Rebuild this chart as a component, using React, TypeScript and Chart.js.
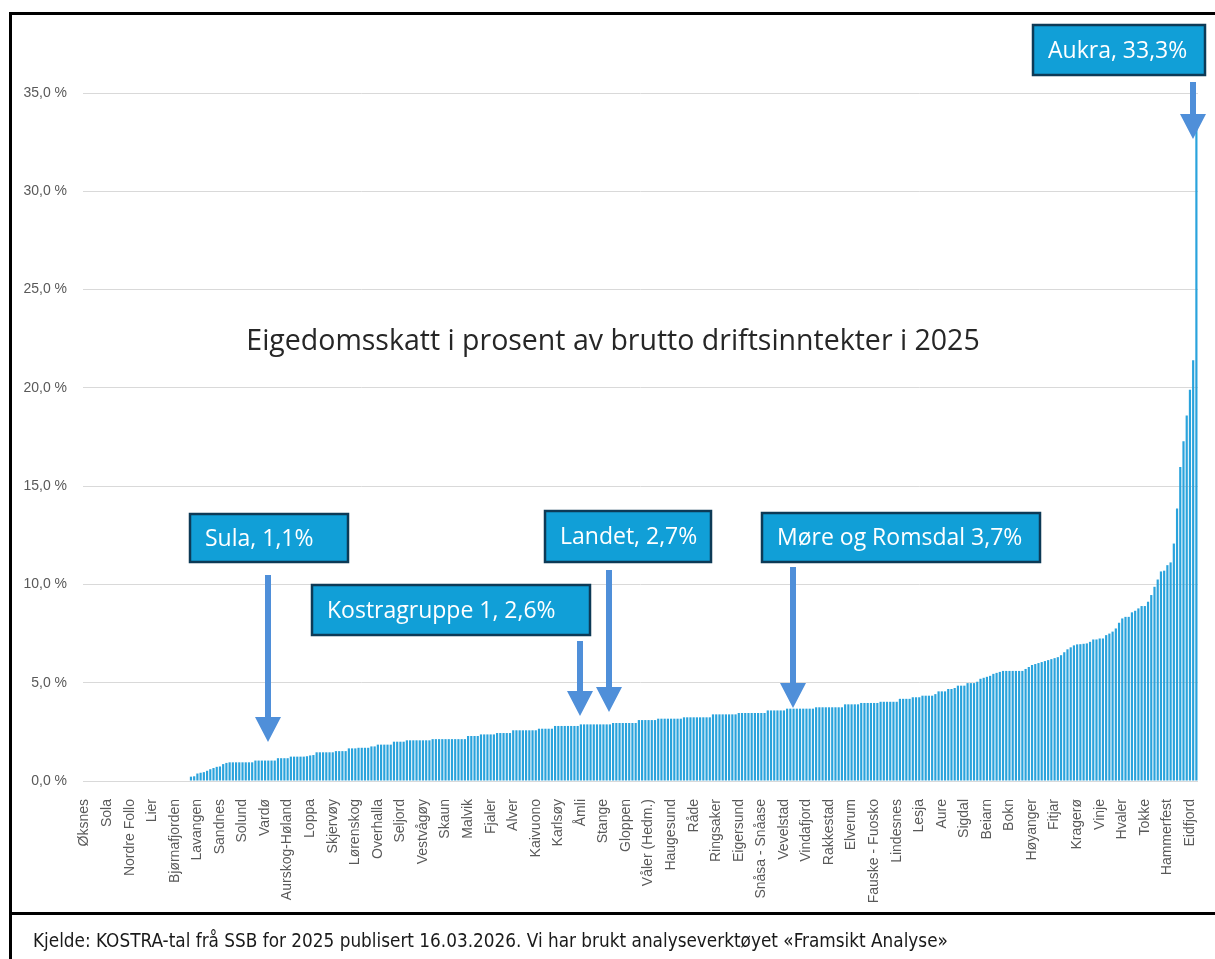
import React, { useEffect, useRef } from 'react';
import { Chart, registerables } from 'chart.js';

Chart.register(...registerables);

// Every 7th municipality is labelled on the x axis
const LABEL_EVERY = 7;
const shownLabels = [
  'Øksnes', 'Sola', 'Nordre Follo', 'Lier', 'Bjørnafjorden', 'Lavangen', 'Sandnes', 'Solund', 'Vardø', 'Aurskog-Høland',
  'Loppa', 'Skjervøy', 'Lørenskog', 'Overhalla', 'Seljord', 'Vestvågøy', 'Skaun', 'Malvik', 'Fjaler', 'Alver',
  'Kaivuono', 'Karlsøy', 'Åmli', 'Stange', 'Gloppen', 'Våler (Hedm.)', 'Haugesund', 'Råde', 'Ringsaker', 'Eigersund',
  'Snåsa - Snåase', 'Vevelstad', 'Vindafjord', 'Rakkestad', 'Elverum', 'Fauske - Fuosko', 'Lindesnes', 'Lesja', 'Aure', 'Sigdal',
  'Beiarn', 'Bokn', 'Høyanger', 'Fitjar', 'Kragerø', 'Vinje', 'Hvaler', 'Tokke', 'Hammerfest', 'Eidfjord',
];

// Eigedomsskatt i prosent av brutto driftsinntekter (sorted)
const values = [
  0, 0, 0, 0, 0, 0, 0, 0, 0, 0, 0,
  0, 0, 0, 0, 0, 0, 0, 0, 0, 0, 0,
  0, 0, 0, 0, 0, 0, 0, 0, 0, 0, 0,
  0.22, 0.24, 0.38, 0.42, 0.45, 0.52, 0.6, 0.66, 0.72, 0.74, 0.86,
  0.92, 0.95, 0.95, 0.95, 0.95, 0.95, 0.95, 0.95, 0.95,
  1.04, 1.04, 1.04, 1.04, 1.04, 1.04, 1.04,
  1.16, 1.16, 1.16, 1.16,
  1.24, 1.24, 1.24, 1.24, 1.24,
  1.26, 1.3, 1.32, 1.46,
  1.46, 1.46, 1.46, 1.46, 1.46,
  1.52, 1.52, 1.52, 1.52,
  1.66, 1.66, 1.66,
  1.69, 1.69, 1.69, 1.69,
  1.76, 1.76,
  1.85, 1.85, 1.85, 1.85, 1.85,
  2.0, 2.0, 2.0, 2.0,
  2.07, 2.07, 2.07, 2.07, 2.07, 2.07, 2.07, 2.07,
  2.13, 2.13, 2.13, 2.13, 2.13, 2.13, 2.13, 2.13, 2.13, 2.13, 2.13,
  2.29, 2.29, 2.29, 2.29,
  2.37, 2.37, 2.37, 2.37, 2.37,
  2.44, 2.44, 2.44, 2.44, 2.44,
  2.58, 2.58, 2.58, 2.58, 2.58, 2.58, 2.58, 2.58,
  2.66, 2.66, 2.66, 2.66, 2.66,
  2.8, 2.8, 2.8, 2.8, 2.8, 2.8, 2.8, 2.8,
  2.88, 2.88, 2.88, 2.88, 2.88, 2.88, 2.88, 2.88, 2.88, 2.88,
  2.95, 2.95, 2.95, 2.95, 2.95, 2.95, 2.95, 2.95,
  3.1, 3.1, 3.1, 3.1, 3.1, 3.1,
  3.17, 3.17, 3.17, 3.17, 3.17, 3.17, 3.17, 3.17,
  3.24, 3.24, 3.24, 3.24, 3.24, 3.24, 3.24, 3.24, 3.24,
  3.39, 3.39, 3.39, 3.39, 3.39, 3.39, 3.39, 3.39,
  3.46, 3.46, 3.46, 3.46, 3.46, 3.46, 3.46, 3.46, 3.46,
  3.59, 3.59, 3.59, 3.59, 3.59, 3.59,
  3.68, 3.68, 3.68, 3.68, 3.68, 3.68, 3.68, 3.68, 3.68,
  3.75, 3.75, 3.75, 3.75, 3.75, 3.75, 3.75, 3.75, 3.75,
  3.9, 3.9, 3.9, 3.9, 3.9,
  3.97, 3.97, 3.97, 3.97, 3.97, 3.97,
  4.03, 4.03, 4.03, 4.03, 4.03, 4.03,
  4.18, 4.18, 4.18, 4.18,
  4.26, 4.26, 4.26,
  4.34, 4.34, 4.34, 4.34,
  4.42, 4.56, 4.56, 4.56, 4.68, 4.68, 4.73,
  4.85, 4.85, 4.85, 4.98, 4.98, 4.98, 5.05,
  5.2, 5.25, 5.3, 5.35, 5.45, 5.5, 5.55,
  5.6, 5.6, 5.6, 5.6, 5.6, 5.6, 5.6,
  5.7, 5.8, 5.9, 5.95, 6.0, 6.05, 6.1, 6.15, 6.2,
  6.25, 6.3, 6.4, 6.55, 6.7, 6.8, 6.9, 6.95,
  6.96, 6.98, 7.0, 7.08, 7.2, 7.2, 7.25, 7.25,
  7.42, 7.5, 7.6, 7.76, 8.05, 8.27, 8.35, 8.35,
  8.58, 8.66, 8.78, 8.9, 8.9, 9.12, 9.46, 9.88,
  10.25, 10.66, 10.7, 10.98, 11.12, 12.08, 13.86,
  15.98, 17.29, 18.6, 19.9, 21.4, 33.3,
];

const Y_MAX = 35;
const Y_STEP = 5;

const categories = values.map((_, i) =>
  i % LABEL_EVERY === 0 ? shownLabels[i / LABEL_EVERY] ?? '' : ''
);

const TITLE = 'Eigedomsskatt i prosent av brutto driftsinntekter i 2025';
const SOURCE = 'Kjelde: KOSTRA-tal frå SSB for 2025 publisert 16.03.2026. Vi har brukt analyseverktøyet «Framsikt Analyse»';

// Callout boxes: text, box [x0,y0,x1,y1], arrow [x, yStart, yTip]
const callouts = [
  { text: 'Aukra, 33,3%', box: [1033, 25, 1205, 75], arrow: [1193, 82, 139] },
  { text: 'Sula, 1,1%', box: [190, 514, 348, 562], arrow: [268, 575, 742] },
  { text: 'Kostragruppe 1, 2,6%', box: [312, 585, 590, 635], arrow: [580, 641, 716] },
  { text: 'Landet, 2,7%', box: [545, 511, 711, 562], arrow: [609, 570, 712] },
  { text: 'Møre og Romsdal 3,7%', box: [762, 513, 1040, 562], arrow: [793, 567, 708] },
];

const calloutPlugin = {
  id: 'callouts',
  afterDraw(chart: any) {
    const ctx = chart.ctx as CanvasRenderingContext2D;
    ctx.save();
    // title
    ctx.fillStyle = '#262626';
    ctx.font = '28.5px "Open Sans", "Liberation Sans", sans-serif';
    ctx.textAlign = 'center';
    ctx.textBaseline = 'middle';
    ctx.fillText(TITLE, 613, 342);

    for (const c of callouts) {
      const [x0, y0, x1, y1] = c.box;
      ctx.fillStyle = '#119fd7';
      ctx.fillRect(x0, y0, x1 - x0, y1 - y0);
      ctx.strokeStyle = '#0d3a56';
      ctx.lineWidth = 2.5;
      ctx.strokeRect(x0, y0, x1 - x0, y1 - y0);
      ctx.fillStyle = '#ffffff';
      ctx.font = '23px "Open Sans", "Liberation Sans", sans-serif';
      ctx.textAlign = 'left';
      ctx.textBaseline = 'middle';
      ctx.fillText(c.text, x0 + 15, (y0 + y1) / 2 + 1);

      const [ax, ay0, tip] = c.arrow;
      const headLen = 25;
      const headHalf = 13;
      const shaft = 3;
      ctx.fillStyle = '#4f8fd9';
      ctx.beginPath();
      ctx.moveTo(ax - shaft, ay0);
      ctx.lineTo(ax + shaft, ay0);
      ctx.lineTo(ax + shaft, tip - headLen);
      ctx.lineTo(ax + headHalf, tip - headLen);
      ctx.lineTo(ax, tip);
      ctx.lineTo(ax - headHalf, tip - headLen);
      ctx.lineTo(ax - shaft, tip - headLen);
      ctx.closePath();
      ctx.fill();
    }
    ctx.restore();
  },
};

export default function App() {
  const ref = useRef<HTMLCanvasElement | null>(null);

  useEffect(() => {
    if (!ref.current) return;
    const chart = new Chart(ref.current, {
      type: 'bar',
      data: {
        labels: categories,
        datasets: [
          {
            data: values,
            backgroundColor: '#2aa3dc',
            borderWidth: 0,
            barPercentage: 0.68,
            categoryPercentage: 1.0,
          },
        ],
      },
      options: {
        animation: false,
        responsive: false,
        maintainAspectRatio: false,
        layout: { autoPadding: false, padding: { top: 93, right: 17, bottom: 0, left: 0 } },
        plugins: {
          legend: { display: false },
          tooltip: { enabled: false },
          title: { display: false },
        },
        scales: {
          x: {
            grid: { display: false },
            border: { display: false },
            ticks: {
              autoSkip: false,
              minRotation: 90,
              maxRotation: 90,
              padding: 10,
              color: '#595959',
              font: { family: '"Liberation Sans", Arial, sans-serif', size: 14 },
            },
            afterFit: (scale: any) => {
              scale.height = 178;
              scale.paddingLeft = 0;
              scale.paddingRight = 0;
            },
          },
          y: {
            min: 0,
            max: Y_MAX,
            grid: { color: '#d9d9d9', drawTicks: false, lineWidth: 1 },
            border: { display: false },
            ticks: {
              stepSize: Y_STEP,
              padding: 16,
              color: '#595959',
              font: { family: '"Liberation Sans", Arial, sans-serif', size: 14 },
              callback: (v: any) => Number(v).toFixed(1).replace('.', ',') + ' %',
            },
            afterFit: (scale: any) => {
              scale.width = 83;
            },
          },
        },
      },
      plugins: [calloutPlugin],
    });
    return () => chart.destroy();
  }, []);

  return (
    <div style={{ position: 'fixed', left: 0, top: 0, width: 1215, height: 959, background: '#ffffff', overflow: 'hidden' }}>
      <div
        style={{
          position: 'absolute',
          left: 9,
          top: 12,
          width: 1220,
          height: 903,
          borderLeft: '3px solid #000',
          borderTop: '3px solid #000',
          borderBottom: '3px solid #000',
          boxSizing: 'border-box',
        }}
      />
      <div style={{ position: 'absolute', left: 9, top: 912, width: 3, height: 47, background: '#000' }} />
      <canvas
        ref={ref}
        width={1215}
        height={959}
        style={{ position: 'absolute', left: 0, top: 0, width: 1215, height: 959 }}
      />
      <div
        style={{
          position: 'absolute',
          left: 33,
          top: 929,
          fontFamily: '"Liberation Sans Narrow", "DejaVu Sans Condensed", "Liberation Sans", sans-serif',
          fontSize: 18.8,
          color: '#1a1a1a',
          whiteSpace: 'nowrap',
          lineHeight: '24px',
        }}
      >
        {SOURCE}
      </div>
    </div>
  );
}
